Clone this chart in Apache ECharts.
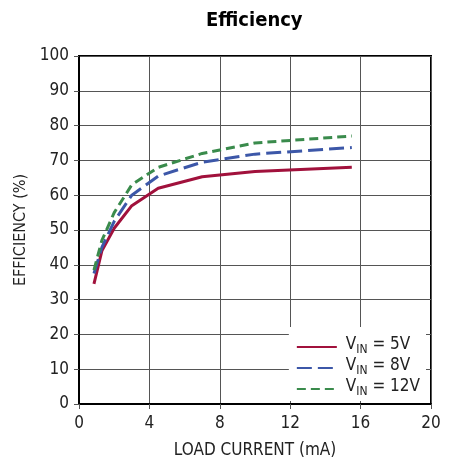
<!DOCTYPE html>
<html>
<head>
<meta charset="utf-8">
<script src="https://cdn.jsdelivr.net/npm/echarts@6/dist/echarts.min.js"></script>
<style>
  html, body { margin: 0; padding: 0; background: #fff; }
  #chart { width: 452px; height: 464px; }
</style>
</head>
<body>
<div id="chart"></div>
<script>
  // load current (mA)
  var loadCurrent = [0.85, 1.3, 2, 3, 4.5, 7, 10, 15.5]
  // efficiency (%) per input voltage
  var eff5V = [34.5, 44, 50.5, 57, 62, 65.3, 66.8, 68]
  var eff8V = [37.5, 45, 52.5, 60, 65.5, 69.5, 71.8, 73.7]
  var eff12V = [38.5, 47, 55, 63, 68, 72, 75, 77]
  var seriesNames = ['5V', '8V', '12V']

  var font = "'DejaVu Sans Condensed', 'DejaVu Sans', sans-serif"

  function pairs(ys) {
    return loadCurrent.map(function (x, i) { return [x, ys[i]] })
  }

  var chart = echarts.init(document.getElementById('chart'))
  chart.setOption({
    animation: false,
    title: {
      text: 'Efficiency',
      left: 201,
      top: 6,
      textStyle: { fontFamily: font, fontSize: 20, fontWeight: 'bold', color: '#000' }
    },
    grid: {
      left: 79, top: 56, width: 352, height: 351,
      show: true, borderColor: '#000', borderWidth: 2, backgroundColor: 'transparent'
    },
    legend: {
      orient: 'vertical',
      right: 26,
      bottom: 63,
      backgroundColor: '#fff',
      padding: [9, 6, 3, 7],
      itemWidth: 40,
      itemHeight: 12,
      itemGap: 1,
      data: seriesNames,
      itemStyle: { opacity: 0 },
      formatter: function (name) {
        return '{v|V}{s|IN}{v| = ' + name + '}'
      },
      textStyle: {
        fontFamily: font,
        color: '#222',
        padding: [0, 0, 0, 4],
        rich: {
          v: { fontFamily: font, fontSize: 17, lineHeight: 18, color: '#222', verticalAlign: 'bottom', padding: [0, 0, 3, 0] },
          s: { fontFamily: font, fontSize: 12, lineHeight: 15, color: '#222', verticalAlign: 'bottom' }
        }
      }
    },
    xAxis: [{
      type: 'value',
      min: 0, max: 20, interval: 4,
      name: 'LOAD CURRENT (mA)',
      nameLocation: 'middle',
      nameGap: 38,
      nameTextStyle: { fontFamily: font, fontSize: 17, color: '#222' },
      axisLine: { show: true, lineStyle: { color: '#000', width: 2 } },
      axisTick: { show: false },
      axisLabel: { margin: 11, fontFamily: font, fontSize: 17, color: '#222' },
      splitLine: { show: true, lineStyle: { color: '#555', width: 1 } }
    }, {
      type: 'value',
      position: 'top',
      min: 0, max: 20, interval: 4,
      axisLine: { show: false },
      axisTick: { show: true, inside: true, length: 5, lineStyle: { color: '#555' } },
      axisLabel: { show: false },
      splitLine: { show: false }
    }],
    yAxis: [{
      type: 'value',
      min: 0, max: 100, interval: 10,
      name: 'EFFICIENCY (%)',
      nameLocation: 'middle',
      nameGap: 36,
      nameTextStyle: { fontFamily: font, fontSize: 16, color: '#222' },
      axisLine: { show: true, lineStyle: { color: '#000', width: 2 } },
      axisTick: { show: false },
      axisLabel: { margin: 10, fontFamily: font, fontSize: 17, color: '#222' },
      splitLine: { show: true, lineStyle: { color: '#555', width: 1 } }
    }, {
      type: 'value',
      position: 'right',
      min: 0, max: 100, interval: 10,
      axisLine: { show: false },
      axisTick: { show: true, inside: true, length: 5, lineStyle: { color: '#555' } },
      axisLabel: { show: false },
      splitLine: { show: false }
    }],
    series: [{
      name: '5V',
      type: 'line',
      symbol: 'none',
      data: pairs(eff5V),
      lineStyle: { color: '#a1113c', width: 3 },
      itemStyle: { color: '#a1113c' }
    }, {
      name: '8V',
      type: 'line',
      symbol: 'none',
      data: pairs(eff8V),
      lineStyle: { color: '#3c57a8', width: 3, type: [15, 6] },
      itemStyle: { color: '#3c57a8' }
    }, {
      name: '12V',
      type: 'line',
      symbol: 'none',
      data: pairs(eff12V),
      lineStyle: { color: '#3a8b4c', width: 3, type: [9, 5] },
      itemStyle: { color: '#3a8b4c' }
    }]
  })
</script>
</body>
</html>
